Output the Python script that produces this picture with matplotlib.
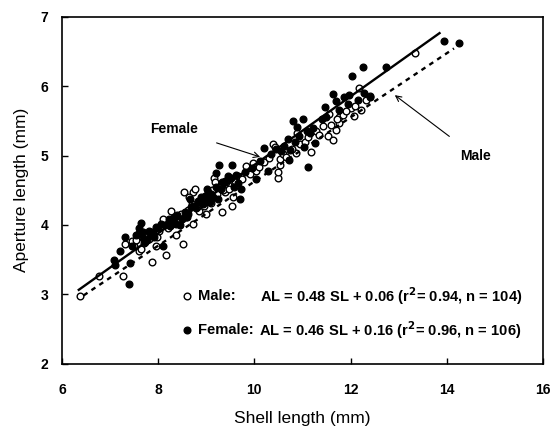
import matplotlib
matplotlib.use("Agg")
import matplotlib.pyplot as plt
import numpy as np

# ---- data ----
male_x = [6.37, 6.78, 7.27, 7.32, 7.46, 7.60, 7.88, 7.98, 7.95, 8.17, 8.26, 8.14, 8.37, 8.51,
          8.53, 8.73, 8.76, 8.73, 8.85, 9.00, 9.00, 9.16, 9.18, 9.33, 9.40, 9.45, 9.54, 9.56,
          9.83, 9.97, 10.03, 10.39, 10.42, 10.49, 10.49, 10.53, 10.54, 10.86, 10.89, 11.18,
          11.29, 11.53, 11.55, 11.63, 11.69, 11.77, 11.76, 12.01, 12.08, 12.17, 12.22, 12.33,
          13.33,
          7.50, 7.55, 7.70, 7.75, 7.82, 7.90, 8.02, 8.05, 8.20, 8.28, 8.35, 8.42, 8.48, 8.58,
          8.62, 8.70, 8.80, 8.90, 8.95, 9.05, 9.10, 9.12, 9.22, 9.28, 9.35, 9.48, 9.60, 9.65,
          9.75, 9.90, 10.10, 10.20, 10.30, 10.60, 10.65, 10.78, 10.95, 11.05, 11.12, 11.35,
          11.42, 11.60, 11.72, 11.85, 11.90, 12.10, 12.40, 8.10, 8.65, 9.42, 7.65]
male_y = [2.97, 3.27, 3.26, 3.73, 3.77, 3.63, 3.46, 3.82, 3.69, 3.57, 4.20, 4.05, 3.85, 3.73,
          4.48, 4.48, 4.52, 4.02, 4.20, 4.16, 4.37, 4.68, 4.62, 4.19, 4.48, 4.58, 4.28, 4.40,
          4.85, 4.89, 4.78, 5.17, 5.13, 4.67, 4.77, 4.87, 4.95, 5.04, 5.32, 5.05,
          5.35, 5.28, 5.60, 5.23, 5.37, 5.47, 5.56, 5.69, 5.57, 5.98, 5.66, 5.80,
          6.47,
          3.70, 3.78, 3.74, 3.86, 3.80, 3.88, 3.92, 3.98, 3.96, 4.02, 4.10, 4.05, 4.16, 4.12,
          4.22, 4.30, 4.26, 4.36, 4.28, 4.40, 4.32, 4.50, 4.44, 4.55, 4.50, 4.52, 4.64, 4.70,
          4.66, 4.74, 4.84, 4.90, 4.96, 5.02, 4.98, 5.10, 5.16, 5.20, 5.26, 5.30,
          5.42, 5.44, 5.52, 5.58, 5.64, 5.72, 5.86, 4.08, 4.40, 4.62, 3.66]

female_x = [7.39, 7.09, 7.10, 7.31, 7.41, 7.65, 7.61, 7.69, 7.77, 7.84, 7.95, 8.10, 8.31, 8.40,
            8.45, 8.59, 8.66, 8.69, 8.87, 8.97, 9.04, 9.07, 9.21, 9.27, 9.25, 9.38, 9.54, 9.66,
            9.70, 9.73, 10.04, 10.21, 10.28, 10.56, 10.70, 10.72, 10.75, 10.80, 10.89, 11.01,
            11.04, 11.11, 11.16, 11.27, 11.40, 11.47, 11.63, 11.69, 11.87, 11.96, 12.03, 12.26,
            12.27, 12.41, 12.74, 13.95, 14.25,
            7.55, 7.60, 7.68, 7.72, 7.80, 7.88, 7.92, 8.00, 8.05, 8.15, 8.22, 8.25, 8.33, 8.38,
            8.50, 8.55, 8.62, 8.72, 8.78, 8.82, 8.90, 8.93, 9.00, 9.02, 9.10, 9.15, 9.20, 9.30,
            9.33, 9.45, 9.52, 9.58, 9.62, 9.80, 9.95, 10.12, 10.35, 10.45, 10.62, 10.85, 10.92,
            11.10, 11.22, 11.50, 11.75, 11.95, 12.15, 7.20, 7.45]
female_y = [3.15, 3.50, 3.43, 3.83, 3.45, 4.03, 3.95, 3.81, 3.78, 3.85, 3.97, 3.69, 4.06, 4.14,
            4.00, 4.11, 4.37, 4.26, 4.33, 4.42, 4.47, 4.33, 4.75, 4.86, 4.37, 4.63, 4.86, 4.61,
            4.38, 4.52, 4.66, 5.11, 4.78, 5.06, 5.24, 4.94, 5.08, 5.50, 5.41, 5.52,
            5.13, 4.84, 5.32, 5.18, 5.53, 5.70, 5.89, 5.79, 5.84, 5.87, 6.15, 6.28,
            5.90, 5.84, 6.28, 6.65, 6.62,
            3.85, 3.88, 3.90, 3.76, 3.92, 3.90, 3.82, 3.95, 4.02, 4.00, 4.08, 3.98, 4.12, 4.02,
            4.08, 4.18, 4.16, 4.28, 4.24, 4.35, 4.40, 4.30, 4.38, 4.52, 4.45, 4.40, 4.55, 4.52,
            4.62, 4.70, 4.68, 4.55, 4.72, 4.76, 4.82, 4.92, 5.02, 5.10, 5.14, 5.20, 5.28,
            5.36, 5.40, 5.56, 5.66, 5.74, 5.80, 3.62, 3.70]

# fitted lines as drawn: slope, intercept, x start, x end
female_line = [0.493, -0.065, 6.35, 13.85]
male_line = [0.462, 0.005, 6.45, 14.15]

x_ticks = [6, 8, 10, 12, 14, 16]
y_ticks = [2, 3, 4, 5, 6, 7]

male_label = "Male:"
female_label = "Female:"
male_eq = "AL = 0.48 SL + 0.06 (r$\\mathbf{^2}$= 0.94, n = 104)"
female_eq = "AL = 0.46 SL + 0.16 (r$\\mathbf{^2}$= 0.96, n = 106)"

# ---- plot ----
plt.rcParams['font.family'] = ['Liberation Sans', 'DejaVu Sans']
plt.rcParams['font.weight'] = 'bold'
plt.rcParams['mathtext.default'] = 'bf'
fig = plt.figure(figsize=(5.58, 4.28), dpi=100)
ax = fig.add_axes([0.111, 0.150, 0.862, 0.811])

ms = 4.8
ax.plot(male_x, male_y, 'o', ms=ms, mfc='white', mec='black', mew=1.0, zorder=3)
ax.plot(female_x, female_y, 'o', ms=ms, mfc='black', mec='black', mew=1.0, zorder=3)

fx = np.array(female_line[2:4])
ax.plot(fx, female_line[0] * fx + female_line[1], '-', color='black', lw=1.7, zorder=4)
mx = np.array(male_line[2:4])
ax.plot(mx, male_line[0] * mx + male_line[1], color='black', lw=1.7,
        linestyle=(0, (2.0, 2.0)), zorder=4)

fs = 10
ax.annotate("Female", xy=(10.12, 4.98), xytext=(8.33, 5.38), fontsize=fs,
            ha='center', va='center',
            arrowprops=dict(arrowstyle='->', color='black', lw=0.8,
                            shrinkA=12, shrinkB=0))
ax.annotate("Male", xy=(12.92, 5.87), xytext=(14.6, 4.99), fontsize=fs,
            ha='center', va='center',
            arrowprops=dict(arrowstyle='->', color='black', lw=0.8,
                            shrinkA=12, shrinkB=0))

# legend-like text block
lfs = 10.6
ax.plot([8.6], [2.97], 'o', ms=ms, mfc='white', mec='black', mew=1.0)
ax.plot([8.6], [2.48], 'o', ms=ms, mfc='black', mec='black', mew=1.0)
ax.text(8.83, 2.97, male_label, fontsize=lfs, va='center', ha='left')
ax.text(8.83, 2.48, female_label, fontsize=lfs, va='center', ha='left')
ax.text(10.12, 2.97, male_eq, fontsize=lfs, va='center', ha='left')
ax.text(10.1, 2.48, female_eq, fontsize=lfs, va='center', ha='left')

ax.set_xlim(6, 16)
ax.set_ylim(2, 7)
ax.set_xticks(x_ticks)
ax.set_yticks(y_ticks)
ax.tick_params(direction='in', length=4, width=1, labelsize=10, top=False, right=False)
ax.tick_params(axis='x', pad=14)
ax.tick_params(axis='y', pad=10)
for s in ax.spines.values():
    s.set_linewidth(1.2)
ax.set_xlabel("Shell length (mm)", fontsize=12.5, fontweight='normal', labelpad=10)
ax.set_ylabel("Aperture length (mm)", fontsize=12.5, fontweight='normal', labelpad=8)

fig.savefig("out.png", dpi=100)
